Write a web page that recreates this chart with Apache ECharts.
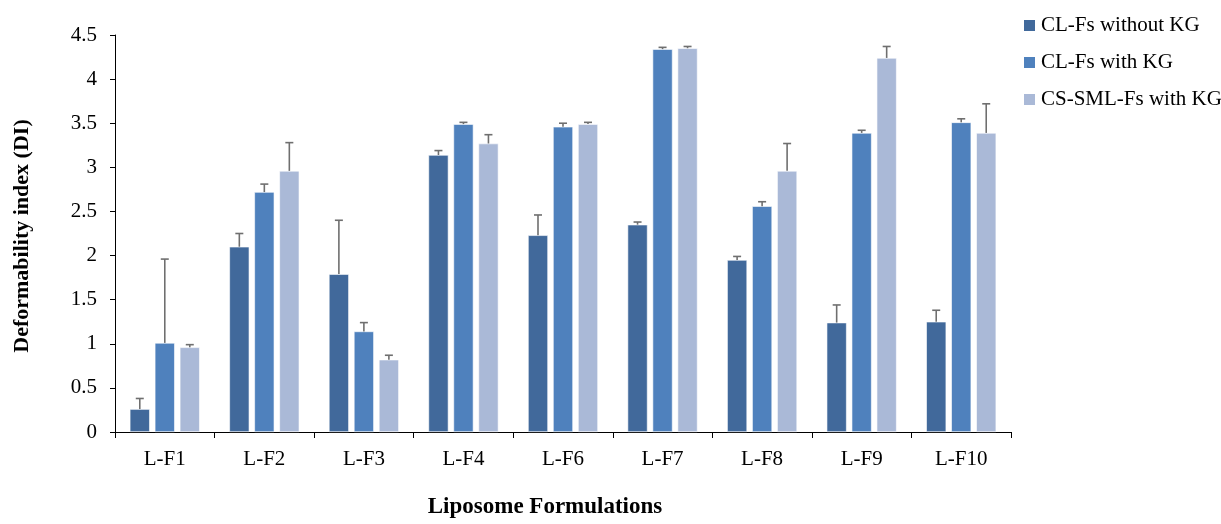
<!DOCTYPE html>
<html>
<head>
<meta charset="utf-8">
<script src="https://cdn.jsdelivr.net/npm/echarts@6/dist/echarts.min.js"></script>
<style>
  html, body { margin: 0; padding: 0; background: #fff; }
  #chart { width: 1221px; height: 524px; }
</style>
</head>
<body>
<div id="chart"></div>
<script>
// Liposome formulations on the category axis
const categories = ['L-F1', 'L-F2', 'L-F3', 'L-F4', 'L-F6', 'L-F7', 'L-F8', 'L-F9', 'L-F10'];
const seriesNames = ['CL-Fs without KG', 'CL-Fs with KG', 'CS-SML-Fs with KG'];

// Mean deformability index per formulation
const clWithoutKG = [0.26, 2.10, 1.79, 3.14, 2.23, 2.35, 1.95, 1.24, 1.25];
const clWithKG    = [1.01, 2.72, 1.14, 3.49, 3.46, 4.34, 2.56, 3.39, 3.51];
const csSmlWithKG = [0.96, 2.96, 0.82, 3.27, 3.49, 4.35, 2.96, 4.24, 3.39];

// Standard deviations (upper error bars)
const clWithoutKGErr = [0.12, 0.15, 0.61, 0.05, 0.23, 0.03, 0.04, 0.20, 0.13];
const clWithKGErr    = [0.95, 0.09, 0.10, 0.02, 0.04, 0.02, 0.05, 0.03, 0.04];
const csSmlWithKGErr = [0.03, 0.32, 0.05, 0.10, 0.02, 0.02, 0.31, 0.13, 0.33];

const yTicks = { min: 0, max: 4.5, interval: 0.5 };

const colors = ['#41699B', '#4F81BD', '#AAB9D7'];
const means = [clWithoutKG, clWithKG, csSmlWithKG];
const errs = [clWithoutKGErr, clWithKGErr, csSmlWithKGErr];

const BAR_W = 20;
const BAR_GAP = 5;
const serifFont = '"Liberation Serif", "Times New Roman", serif';

const chart = echarts.init(document.getElementById('chart'), null, { renderer: 'canvas' });

const barSeries = seriesNames.map((name, i) => ({
  name,
  type: 'bar',
  data: means[i],
  barWidth: BAR_W,
  barGap: (BAR_GAP / BAR_W * 100) + '%',
  itemStyle: { color: colors[i], borderColor: '#ffffff', borderWidth: 0.6 },
  emphasis: { disabled: true },
  z: 2
}));

// Upper error whiskers drawn on top of each bar
const errorSeries = seriesNames.map((name, i) => ({
  type: 'custom',
  name: name + ' err',
  data: means[i].map((m, k) => [k, m, m + errs[i][k]]),
  encode: { x: 0, y: [1, 2] },
  z: 5,
  silent: true,
  renderItem: function (params, api) {
    const offset = (i - 1) * (BAR_W + BAR_GAP);
    const base = api.coord([api.value(0), api.value(1)]);
    const top = api.coord([api.value(0), api.value(2)]);
    const x = base[0] + offset;
    const cap = 4;
    const style = { stroke: '#6f6f6f', lineWidth: 1.6 };
    return {
      type: 'group',
      children: [
        { type: 'line', shape: { x1: x, y1: base[1], x2: x, y2: top[1] }, style },
        { type: 'line', shape: { x1: x - cap, y1: top[1], x2: x + cap, y2: top[1] }, style }
      ]
    };
  }
}));

chart.setOption({
  animation: false,
  backgroundColor: '#ffffff',
  grid: { left: 115, right: 210, top: 35, bottom: 92, containLabel: false },
  legend: {
    data: seriesNames,
    orient: 'vertical',
    left: 1017,
    top: 10,
    itemWidth: 13,
    itemHeight: 13,
    itemGap: 16,
    icon: 'rect',
    textStyle: { fontFamily: serifFont, fontSize: 21, color: '#000' },
    selectedMode: false
  },
  xAxis: {
    type: 'category',
    data: categories,
    axisLine: { lineStyle: { color: '#000', width: 1 } },
    axisTick: { show: true, length: 6, alignWithLabel: false, lineStyle: { color: '#000' } },
    axisLabel: { fontFamily: serifFont, fontSize: 21, color: '#000', margin: 17 }
  },
  yAxis: {
    type: 'value',
    min: yTicks.min,
    max: yTicks.max,
    interval: yTicks.interval,
    splitLine: { show: false },
    axisLine: { show: true, lineStyle: { color: '#000', width: 1 } },
    axisTick: { show: true, length: 5, lineStyle: { color: '#000' } },
    axisLabel: { fontFamily: serifFont, fontSize: 21, color: '#000', margin: 18 }
  },
  graphic: [
    {
      type: 'text',
      x: 22,
      y: 236,
      rotation: Math.PI / 2,
      style: {
        text: 'Deformability index (DI)',
        fontFamily: serifFont,
        fontSize: 22,
        fontWeight: 'bold',
        fill: '#000',
        align: 'center',
        verticalAlign: 'middle'
      }
    },
    {
      type: 'text',
      x: 545,
      y: 507,
      style: {
        text: 'Liposome Formulations',
        fontFamily: serifFont,
        fontSize: 23,
        fontWeight: 'bold',
        fill: '#000',
        align: 'center',
        verticalAlign: 'middle'
      }
    }
  ],
  series: barSeries.concat(errorSeries)
});
</script>
</body>
</html>
